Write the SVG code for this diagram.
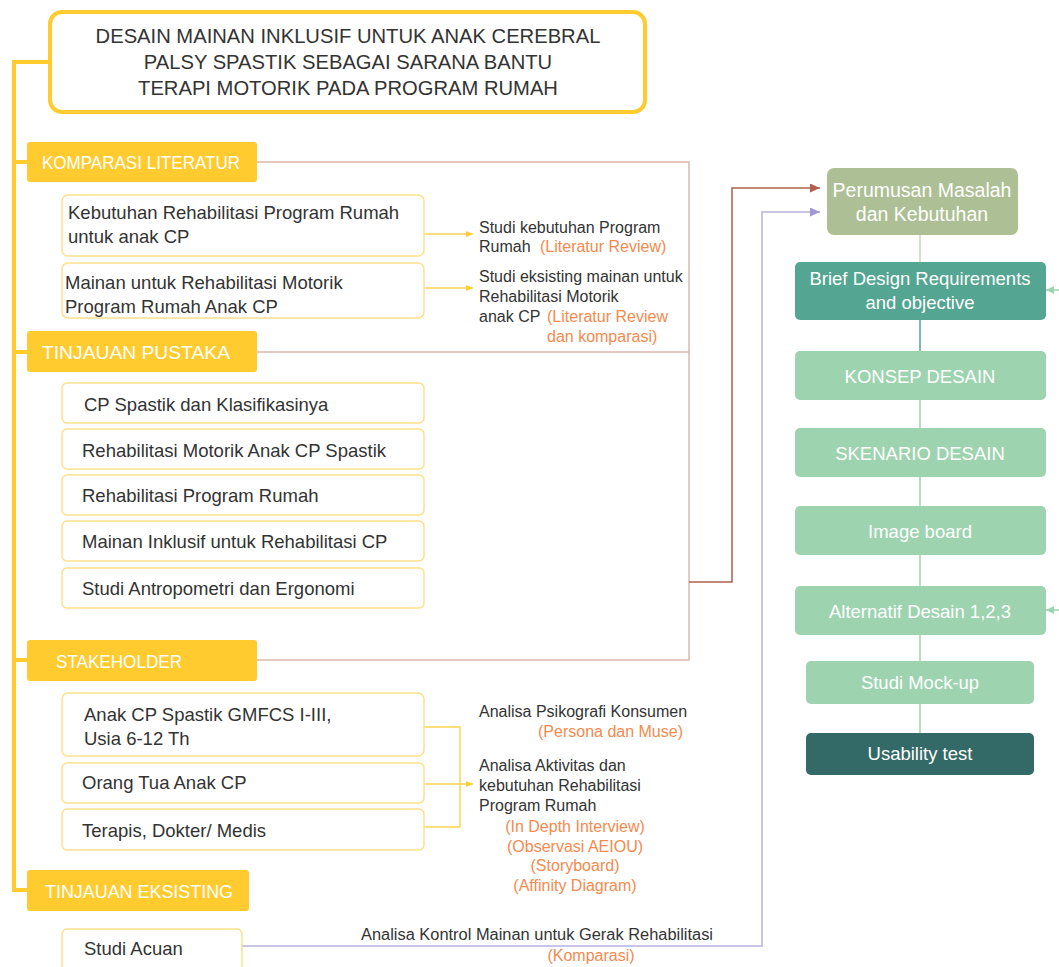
<svg xmlns="http://www.w3.org/2000/svg" width="1059" height="967" viewBox="0 0 1059 967">
<defs>
<style>
text{font-family:"Liberation Sans",Arial,sans-serif;}
.title{font-size:20.2px;fill:#333;text-anchor:middle;}
.cat{fill:#FFCB2F;}
.catt{font-size:18.5px;fill:#fff;}
.sub{fill:#fff;stroke:#FFE08A;stroke-width:1.5;}
.subt{font-size:18.5px;fill:#333;}
.ann{font-size:16px;fill:#333;}
.or{font-size:16px;fill:#F58A4E;}
.rt{font-size:18.5px;fill:#fff;text-anchor:middle;}
.yl{fill:none;stroke:#FFCB2F;stroke-width:4;}
.ys{fill:none;stroke:#FFD54F;stroke-width:1.5;}
</style>
<marker id="ay" markerUnits="userSpaceOnUse" markerWidth="7" markerHeight="7" refX="7" refY="3.5" orient="auto"><path d="M0,0.5 L7,3.5 L0,6.5 z" fill="#FFCB2F"/></marker>
<marker id="ab" markerUnits="userSpaceOnUse" markerWidth="10" markerHeight="9" refX="10" refY="4.5" orient="auto"><path d="M0,0 L10,4.5 L0,9 z" fill="#B0604C"/></marker>
<marker id="ap" markerUnits="userSpaceOnUse" markerWidth="10" markerHeight="9" refX="10" refY="4.5" orient="auto"><path d="M0,0 L10,4.5 L0,9 z" fill="#A397D6"/></marker>
<marker id="ag" markerUnits="userSpaceOnUse" markerWidth="8" markerHeight="8" refX="8" refY="4" orient="auto"><path d="M0,0 L8,4 L0,8 z" fill="#9DD3AF"/></marker>
</defs>
<rect width="1059" height="967" fill="#fff"/>

<g id="connectors">
<path class="yl" d="M50,62 H14 V890 H27"/>
<path class="yl" d="M14,162 H27 M14,352 H27 M14,660 H27"/>
<path class="ys" d="M424,234 H473" marker-end="url(#ay)"/>
<path class="ys" d="M424,288 H473" marker-end="url(#ay)"/>
<path class="ys" d="M424,727 H460 V827 H424"/>
<path class="ys" d="M460,784 H473" marker-end="url(#ay)"/>
<path class="ys" d="M424,784 H460"/>
<path d="M257,162 H689 V660 H257 M257,352 H689" fill="none" stroke="#DDB6AA" stroke-width="1.5"/>
<path d="M689,582 H732 V188 H820" fill="none" stroke="#B0604C" stroke-width="1.5" marker-end="url(#ab)"/>
<path d="M242,946 H762 V212 H820" fill="none" stroke="#C9C3E6" stroke-width="2" marker-end="url(#ap)"/>
<path d="M920,235 V262" stroke="#C9D6B8" stroke-width="1.5"/>
<path d="M920,320 V351" stroke="#54A592" stroke-width="1.5"/>
<path d="M920,400 V428 M920,477 V506 M920,555 V586 M920,635 V661 M920,704 V733" stroke="#9DD3AF" stroke-width="1.5"/>
<path d="M1059,290 H1046" stroke="#9DD3AF" stroke-width="1.5" marker-end="url(#ag)"/>
<path d="M1059,610 H1046" stroke="#9DD3AF" stroke-width="1.5" marker-end="url(#ag)"/>
</g>

<g id="title">
<rect x="50" y="12" width="595" height="100" rx="12" fill="#fff" stroke="#FFCB2F" stroke-width="4"/>
<text class="title" x="348" y="43">DESAIN MAINAN INKLUSIF UNTUK ANAK CEREBRAL</text>
<text class="title" x="348" y="69">PALSY SPASTIK SEBAGAI SARANA BANTU</text>
<text class="title" x="348" y="95">TERAPI MOTORIK PADA PROGRAM RUMAH</text>
</g>

<g id="komparasi">
<rect class="cat" x="27" y="142" width="230" height="40" rx="3"/>
<text class="catt" x="42" y="169" textLength="198" lengthAdjust="spacingAndGlyphs">KOMPARASI LITERATUR</text>
</g>
<g id="kebutuhan">
<rect class="sub" x="62" y="195" width="362" height="61" rx="6"/>
<text class="subt" x="68" y="219">Kebutuhan Rehabilitasi Program Rumah</text>
<text class="subt" x="68" y="243">untuk anak CP</text>
</g>
<g id="mainan">
<rect class="sub" x="62" y="263" width="362" height="55" rx="6"/>
<text class="subt" x="65" y="289">Mainan untuk Rehabilitasi Motorik</text>
<text class="subt" x="65" y="313">Program Rumah Anak CP</text>
</g>
<g id="ann1">
<text class="ann" x="479" y="233">Studi kebutuhan Program</text>
<text class="ann" x="479" y="252">Rumah <tspan class="or" x="540">(Literatur Review)</tspan></text>
</g>
<g id="ann2">
<text class="ann" x="479" y="282">Studi eksisting mainan untuk</text>
<text class="ann" x="479" y="302">Rehabilitasi Motorik</text>
<text class="ann" x="479" y="322">anak CP <tspan class="or" x="547">(Literatur Review</tspan></text>
<text class="or" x="547" y="342">dan komparasi)</text>
</g>

<g id="pustaka">
<rect class="cat" x="27" y="331" width="230" height="41" rx="3"/>
<text class="catt" x="42" y="359" textLength="188" lengthAdjust="spacingAndGlyphs">TINJAUAN PUSTAKA</text>
</g>
<g id="p1"><rect class="sub" x="62" y="383" width="362" height="40" rx="5"/><text class="subt" x="84" y="411">CP Spastik dan Klasifikasinya</text></g>
<g id="p2"><rect class="sub" x="62" y="429" width="362" height="40" rx="5"/><text class="subt" x="82" y="457">Rehabilitasi Motorik Anak CP Spastik</text></g>
<g id="p3"><rect class="sub" x="62" y="475" width="362" height="40" rx="5"/><text class="subt" x="82" y="502">Rehabilitasi Program Rumah</text></g>
<g id="p4"><rect class="sub" x="62" y="521" width="362" height="40" rx="5"/><text class="subt" x="82" y="548">Mainan Inklusif untuk Rehabilitasi CP</text></g>
<g id="p5"><rect class="sub" x="62" y="568" width="362" height="40" rx="5"/><text class="subt" x="82" y="595">Studi Antropometri dan Ergonomi</text></g>

<g id="stakeholder">
<rect class="cat" x="27" y="640" width="230" height="41" rx="3"/>
<text class="catt" x="56" y="668" textLength="126" lengthAdjust="spacingAndGlyphs">STAKEHOLDER</text>
</g>
<g id="s1"><rect class="sub" x="62" y="693" width="362" height="63" rx="6"/><text class="subt" x="84" y="721">Anak CP Spastik GMFCS I-III,</text><text class="subt" x="84" y="745">Usia 6-12 Th</text></g>
<g id="s2"><rect class="sub" x="62" y="763" width="362" height="40" rx="5"/><text class="subt" x="82" y="789">Orang Tua Anak CP</text></g>
<g id="s3"><rect class="sub" x="62" y="809" width="362" height="41" rx="5"/><text class="subt" x="82" y="837">Terapis, Dokter/ Medis</text></g>
<g id="ann3">
<text class="ann" x="479" y="717">Analisa Psikografi Konsumen</text>
<text class="or" x="683" y="737" text-anchor="end">(Persona dan Muse)</text>
</g>
<g id="ann4">
<text class="ann" x="479" y="771">Analisa Aktivitas dan</text>
<text class="ann" x="479" y="791">kebutuhan Rehabilitasi</text>
<text class="ann" x="479" y="811">Program Rumah</text>
<text class="or" x="575" y="832" text-anchor="middle">(In Depth Interview)</text>
<text class="or" x="575" y="852" text-anchor="middle">(Observasi AEIOU)</text>
<text class="or" x="575" y="871" text-anchor="middle">(Storyboard)</text>
<text class="or" x="575" y="891" text-anchor="middle">(Affinity Diagram)</text>
</g>

<g id="eksisting">
<rect class="cat" x="27" y="870" width="222" height="41" rx="3"/>
<text class="catt" x="45" y="898" textLength="188" lengthAdjust="spacingAndGlyphs">TINJAUAN EKSISTING</text>
</g>
<g id="acuan"><rect class="sub" x="62" y="929" width="180" height="48" rx="5"/><text class="subt" x="84" y="955">Studi Acuan</text></g>
<g id="ann5">
<text class="ann" x="537" y="940" text-anchor="middle" textLength="352" lengthAdjust="spacingAndGlyphs">Analisa Kontrol Mainan untuk Gerak Rehabilitasi</text>
<text class="or" x="591" y="961" text-anchor="middle">(Komparasi)</text>
</g>

<g id="perumusan"><rect x="827" y="168" width="191" height="67" rx="7" fill="#ADBF94"/><text class="rt" x="922" y="197" style="font-size:19.5px">Perumusan Masalah</text><text class="rt" x="922" y="221" style="font-size:19.5px">dan Kebutuhan</text></g>
<g id="brief"><rect x="795" y="262" width="251" height="58" rx="5" fill="#54A592"/><text class="rt" x="920" y="285">Brief Design Requirements</text><text class="rt" x="920" y="309">and objective</text></g>
<g id="konsep"><rect x="795" y="351" width="251" height="49" rx="5" fill="#9DD3AF"/><text class="rt" x="920" y="383">KONSEP DESAIN</text></g>
<g id="skenario"><rect x="795" y="428" width="251" height="49" rx="5" fill="#9DD3AF"/><text class="rt" x="920" y="460">SKENARIO DESAIN</text></g>
<g id="imageboard"><rect x="795" y="506" width="251" height="49" rx="5" fill="#9DD3AF"/><text class="rt" x="920" y="538">Image board</text></g>
<g id="alternatif"><rect x="795" y="586" width="251" height="49" rx="5" fill="#9DD3AF"/><text class="rt" x="920" y="618">Alternatif Desain 1,2,3</text></g>
<g id="mockup"><rect x="806" y="661" width="228" height="43" rx="5" fill="#9DD3AF"/><text class="rt" x="920" y="689">Studi Mock-up</text></g>
<g id="usability"><rect x="806" y="733" width="228" height="42" rx="5" fill="#336967"/><text class="rt" x="920" y="760">Usability test</text></g>
</svg>
